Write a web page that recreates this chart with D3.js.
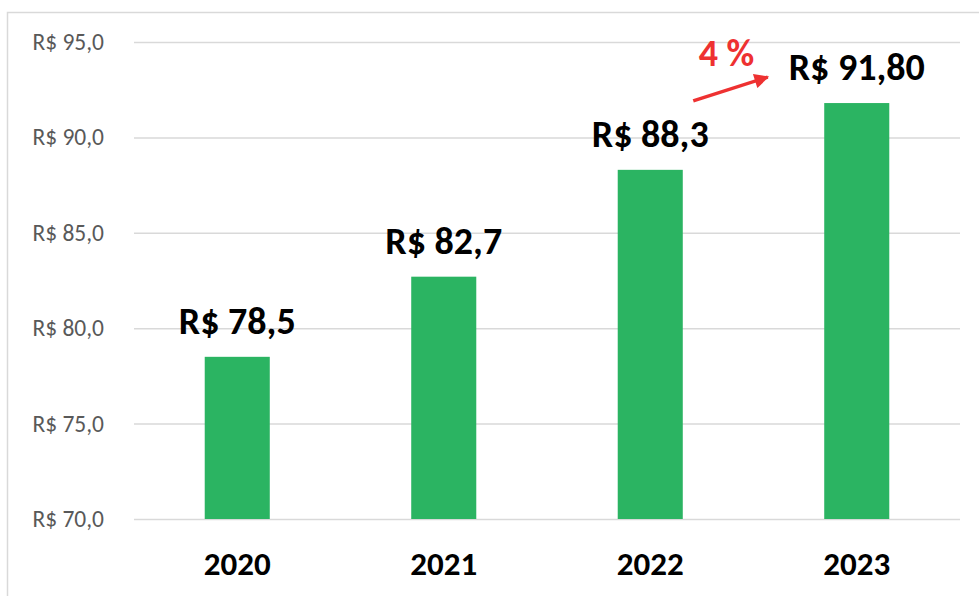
<!DOCTYPE html>
<html><head><meta charset="utf-8">
<script src="https://cdn.jsdelivr.net/npm/d3@7"></script>
<style>body{margin:0;background:#fff}svg{display:block}</style>
</head><body>
<script>
const categories = ["2020","2021","2022","2023"];
const values = [78.5, 82.7, 88.3, 91.8];
const valueLabels = ["R$ 78,5","R$ 82,7","R$ 88,3","R$ 91,80"];
const yTicks = [70,75,80,85,90,95];
const growthLabel = "4 %";

const W=979,H=596;
const svg=d3.select("body").append("svg").attr("width",W).attr("height",H);
svg.append("rect").attr("x",7.5).attr("y",12.5).attr("width",W).attr("height",H).attr("fill","#fff").attr("stroke","#d9d9d9").attr("stroke-width",1.5);

const m={left:134,right:960,top:42,bottom:519};
const x=d3.scaleBand().domain(categories).range([m.left,m.right]).paddingInner(0.685).paddingOuter(0.3425);
const y=d3.scaleLinear().domain([70,95]).range([m.bottom,m.top]);
const font="Calibri, Carlito, Lato, sans-serif";

const yAxis=d3.axisLeft(y).tickValues(yTicks).tickSize(-(m.right-m.left)).tickPadding(30)
  .tickFormat(d=>"R$ "+d3.format(".1f")(d).replace(".",","));
const ga=svg.append("g").attr("transform",`translate(${m.left},0)`).call(yAxis);
ga.select(".domain").remove();
ga.selectAll("line").attr("stroke","#d9d9d9").attr("stroke-width",1.5);
ga.selectAll("text").attr("fill","#595959").style("font-family",font).style("font-size","23.5px");

svg.selectAll(".bar").data(values).enter().append("rect")
  .attr("x",(d,i)=>x(categories[i])).attr("width",x.bandwidth())
  .attr("y",d=>y(d)).attr("height",d=>y(70)-y(d)).attr("fill","#2bb462");

svg.selectAll(".vl").data(values).enter().append("text")
  .attr("x",(d,i)=>x(categories[i])+x.bandwidth()/2).attr("y",d=>y(d)-23)
  .attr("text-anchor","middle").style("font-family",font).style("font-size","38px").style("font-weight","bold")
  .attr("fill","#000").text((d,i)=>valueLabels[i]);

const xAxis=d3.axisBottom(x).tickSize(0).tickPadding(33);
const gx=svg.append("g").attr("transform",`translate(0,${m.bottom})`).call(xAxis);
gx.select(".domain").remove();
gx.selectAll("text").attr("fill","#000").style("font-family",font).style("font-size","33px").style("font-weight","bold");

// growth annotation
const x3=x(categories[2])+x.bandwidth()/2, x4=x(categories[3])+x.bandwidth()/2;
const red="#ee3131";
svg.append("defs").append("marker").attr("id","ah").attr("viewBox","0 0 10 10").attr("refX",9).attr("refY",5)
  .attr("markerWidth",5).attr("markerHeight",4.2).attr("orient","auto")
  .append("path").attr("d","M0,0L10,5L0,10z").attr("fill",red);
svg.append("line").attr("x1",x3+43).attr("y1",y(values[2])-69).attr("x2",x4-89).attr("y2",y(values[3])-26)
  .attr("stroke",red).attr("stroke-width",3.5).attr("marker-end","url(#ah)");
svg.append("text").attr("x",(x3+x4)/2-27).attr("y",66).attr("text-anchor","middle")
  .style("font-family",font).style("font-size","38px").style("font-weight","bold").attr("fill",red).text(growthLabel);
</script>
</body></html>
